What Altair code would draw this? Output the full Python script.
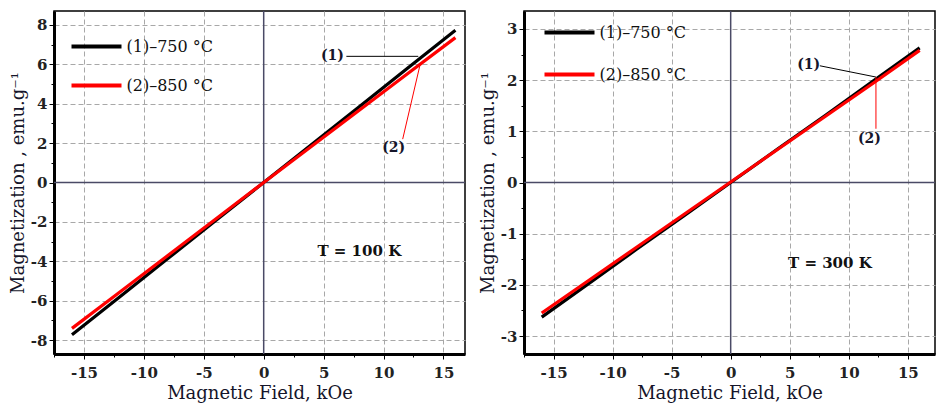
import altair as alt
import pandas as pd

# ---------------- data ----------------
field_kOe = [-16, -12, -8, -4, 0, 4, 8, 12, 16]
m_100K_750 = [-7.72, -5.80, -3.86, -1.93, 0.0, 1.93, 3.86, 5.80, 7.72]
m_100K_850 = [-7.40, -5.55, -3.70, -1.85, 0.0, 1.84, 3.68, 5.52, 7.35]
m_300K_750 = [-2.63, -1.97, -1.31, -0.66, 0.0, 0.66, 1.31, 1.97, 2.63]
m_300K_850 = [-2.55, -1.91, -1.27, -0.63, 0.01, 0.65, 1.29, 1.93, 2.58]

series_names = ["(1)–750 °C", "(2)–850 °C"]
series_colors = ["#000000", "#ff0000"]
temperature_labels = ["T = 100 K", "T = 300 K"]
x_title = "Magnetic Field, kOe"
y_title = "Magnetization , emu.g⁻¹"
callout_labels = ["(1)", "(2)"]

x_ticks = [-17.5, -15, -12.5, -10, -7.5, -5, -2.5, 0, 2.5, 5, 7.5, 10, 12.5, 15]
y_ticks_100 = [-8, -7, -6, -5, -4, -3, -2, -1, 0, 1, 2, 3, 4, 5, 6, 7, 8]
y_ticks_300 = [-3, -2.5, -2, -1.5, -1, -0.5, 0, 0.5, 1, 1.5, 2, 2.5, 3]

# callout anchors (data units)
c100_text_x = [5.74, 10.85]
c100_text_y = [6.4, 1.75]
c100_lead_x = [6.9, 11.6]
c100_lead_y = [6.4, 2.2]
c100_lead_x2 = [12.9, 13.06]
c100_lead_y2 = [6.4, 6.0]
t100_xy = [7.98, -3.46]

c300_text_x = [6.6, 11.75]
c300_text_y = [2.3, 0.84]
c300_lead_x = [7.55, 12.3]
c300_lead_y = [2.28, 2.06]
c300_lead_x2 = [12.3, 12.3]
c300_lead_y2 = [2.06, 1.05]
t300_xy = [8.4, -1.57]

FONT = "DejaVu Serif"
TXT = "#15152a"


def panel(m1, m2, xdom, ydom, yvals, ylabel_test, tx, ty, lx, ly, lx2, ly2,
          tlabel, txy, legx, legy, leggap, w, h):
    xs = alt.Scale(domain=xdom, nice=False, zero=False)
    ys = alt.Scale(domain=ydom, nice=False, zero=False)
    df = pd.DataFrame({
        "H": field_kOe + field_kOe,
        "M": m1 + m2,
        "s": [series_names[0]] * len(m1) + [series_names[1]] * len(m2),
    })
    xaxis = alt.Axis(
        values=x_ticks, title=x_title,
        labelExpr="datum.value % 5 === 0 ? '' + datum.value : ''",
        tickSize={"condition": {"test": "datum.value % 5 !== 0", "value": 3}, "value": 5},
        gridOpacity={"condition": {"test": "datum.value % 5 !== 0 || datum.value === 0", "value": 0}, "value": 1},
        labelPadding=6, titlePadding=4, labelFlush=False, labelOverlap=False,
    )
    yaxis = alt.Axis(
        values=yvals, title=y_title,
        labelExpr=f"({ylabel_test}) ? '' + datum.value : ''",
        tickSize={"condition": {"test": f"!({ylabel_test})", "value": 3}, "value": 5},
        gridOpacity={"condition": {"test": f"!({ylabel_test}) || datum.value === 0", "value": 0}, "value": 1},
        labelPadding=2, titlePadding=3, labelFlush=False, labelOverlap=False,
    )
    X = lambda f: alt.X(f, scale=xs, axis=xaxis, title=x_title)
    Y = lambda f: alt.Y(f, scale=ys, axis=yaxis, title=y_title)

    zero = pd.DataFrame({"v": [0]})
    vzero = alt.Chart(zero).mark_rule(color="#4a4a66", strokeWidth=1.5).encode(x=X("v:Q"))
    hzero = alt.Chart(zero).mark_rule(color="#4a4a66", strokeWidth=1.5).encode(y=Y("v:Q"))
    lines = alt.Chart(df).mark_line(strokeWidth=3.2).encode(
        x=X("H:Q"),
        y=Y("M:Q"),
        color=alt.Color("s:N", scale=alt.Scale(domain=series_names, range=series_colors),
                        legend=alt.Legend(orient="none", legendX=legx, legendY=legy, title=None,
                                          symbolType="M-2,0H2", symbolSize=625, symbolStrokeWidth=4,
                                          rowPadding=leggap - 22, labelOffset=15.5, padding=0,
                                          labelFont=FONT, labelFontSize=16, labelColor="#111")),
    )
    lead = pd.DataFrame({"x": lx, "y": ly, "x2": lx2, "y2": ly2, "c": series_names})
    leaders = alt.Chart(lead).mark_rule(strokeWidth=1).encode(
        x=X("x:Q"), y=Y("y:Q"),
        x2="x2:Q", y2="y2:Q",
        color=alt.Color("c:N", scale=alt.Scale(domain=series_names, range=series_colors), legend=None),
    )
    cdf = pd.DataFrame({"x": tx, "y": ty, "t": callout_labels})
    ctext = alt.Chart(cdf).mark_text(font=FONT, fontSize=14, fontWeight="bold", color=TXT).encode(
        x=X("x:Q"), y=Y("y:Q"), text="t:N")
    tdf = pd.DataFrame({"x": [txy[0]], "y": [txy[1]], "t": [tlabel]})
    ttext = alt.Chart(tdf).mark_text(font=FONT, fontSize=15, fontWeight="bold", color="#111").encode(
        x=X("x:Q"), y=Y("y:Q"), text="t:N")
    return alt.layer(vzero, hzero, lines, leaders, ctext, ttext).properties(width=w, height=h)


left = panel(m_100K_750, m_100K_850, [-17.5, 16.8], [-8.7, 8.7], y_ticks_100,
             "datum.value % 2 === 0",
             c100_text_x, c100_text_y, c100_lead_x, c100_lead_y, c100_lead_x2, c100_lead_y2,
             temperature_labels[0], t100_xy, 28, 21, 38, 411, 343)
right = panel(m_300K_750, m_300K_850, [-17.5, 17.3], [-3.35, 3.35], y_ticks_300,
              "datum.value % 1 === 0",
              c300_text_x, c300_text_y, c300_lead_x, c300_lead_y, c300_lead_x2, c300_lead_y2,
              temperature_labels[1], t300_xy, 31, 7, 41, 411, 343)

chart = alt.hconcat(left, right, spacing=11).resolve_scale(color="independent").resolve_legend(
    color="independent").properties(
    padding={"left": 0, "top": 1, "right": 0, "bottom": 0}).configure_view(
    stroke="#000000", strokeWidth=1.5).configure_axis(
    domainColor="#000000", domainWidth=3, tickColor="#000000", tickWidth=1,
    gridColor="#a8a8a8", gridDash=[5, 3], gridWidth=1,
    labelFont=FONT, labelFontWeight="bold", labelFontSize=15, labelColor="#222222",
    titleFont=FONT, titleFontWeight="normal", titleFontSize=18, titleColor=TXT)

chart.save("out.html", embed_options={"renderer": "svg", "actions": False})
